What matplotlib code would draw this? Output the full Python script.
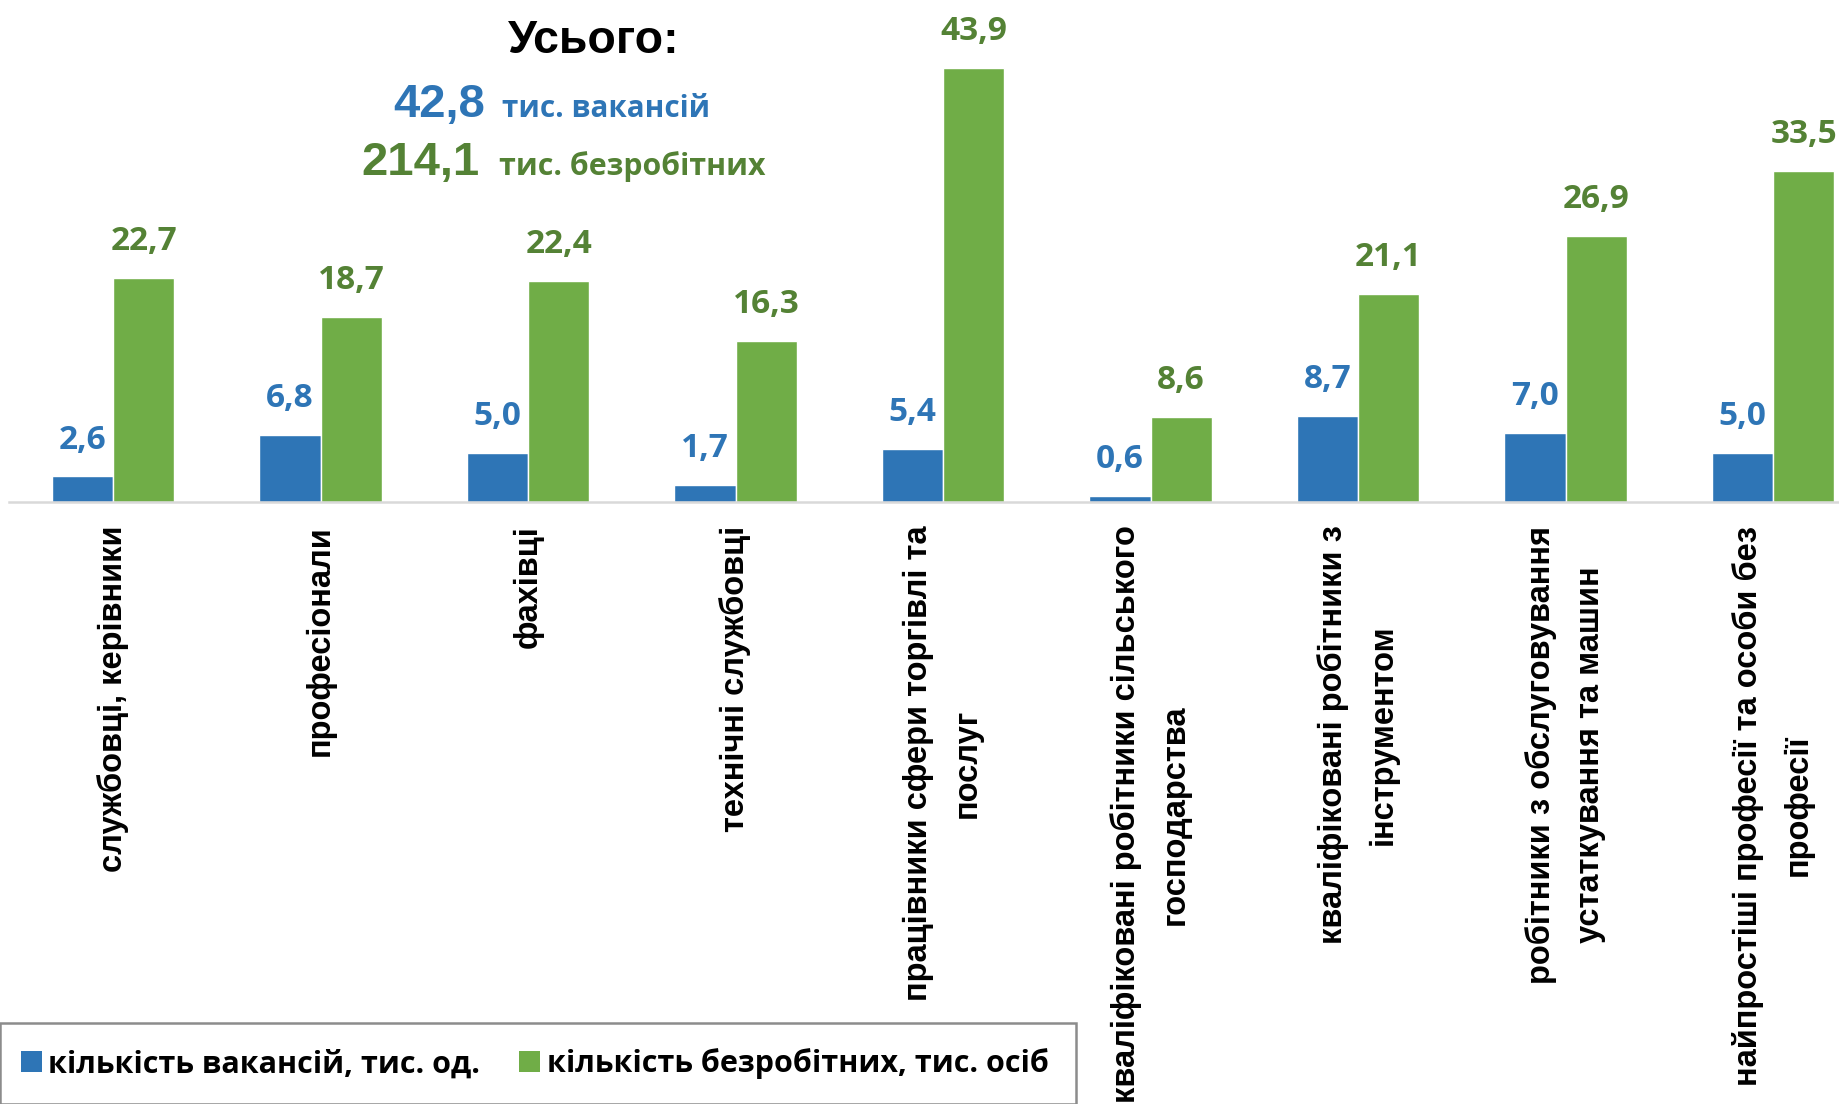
import numpy as np
import matplotlib
matplotlib.use('Agg')
import matplotlib.pyplot as plt
from matplotlib.patches import Patch, Rectangle

# дані
categories = [
    'службовці, керівники',
    'професіонали',
    'фахівці',
    'технічні службовці',
    'працівники сфери торгівлі та\nпослуг',
    'кваліфіковані робітники сільського\nгосподарства',
    'кваліфіковані робітники з\nінструментом',
    'робітники з обслуговування\nустаткування та машин',
    'найпростіші професії та особи без\nпрофесії',
]
vacancies = [2.6, 6.8, 5.0, 1.7, 5.4, 0.6, 8.7, 7.0, 5.0]
unemployed = [22.7, 18.7, 22.4, 16.3, 43.9, 8.6, 21.1, 26.9, 33.5]
series_names = ['кількість вакансій, тис. од.', 'кількість безробітних, тис. осіб']
total_vac = '42,8'
total_unemp = '214,1'

BLUE = '#2E75B6'
GREEN = '#70AD47'
BLUE_TXT = '#2E75B6'
GREEN_TXT = '#548235'

CAL = ['Open Sans', 'DejaVu Sans']
ARIAL = ['Liberation Sans', 'DejaVu Sans']

W, H = 1839, 1104
fig = plt.figure(figsize=(W / 100, H / 100), dpi=100)

# вісь: ліворуч 9 px, низ 502 px від верху, верх 8 px
left_px, base_px, top_px = 9.25, 502, 8
ax = fig.add_axes([left_px / W, 1 - base_px / H, 1 - left_px / W, (base_px - top_px) / H])

x = np.arange(len(categories))
bw = 0.295
b1 = ax.bar(x - bw / 2, vacancies, bw, color=BLUE, edgecolor='white', linewidth=1, zorder=2)
b2 = ax.bar(x + bw / 2, unemployed, bw, color=GREEN, edgecolor='white', linewidth=1, zorder=2)

ax.set_ylim(0, 50)
ax.set_xlim(-0.5, -0.5 + (W - left_px) / 207.5)

for bars, vals, col in [(b1, vacancies, BLUE_TXT), (b2, unemployed, GREEN_TXT)]:
    for bar, v in zip(bars, vals):
        ax.annotate(f'{v:.1f}'.replace('.', ','),
                    (bar.get_x() + bar.get_width() / 2, v),
                    xytext=(0, 20), textcoords='offset points',
                    ha='center', va='baseline', fontsize=24,
                    fontweight='bold', color=col, family=CAL)

for s in ['left', 'right', 'top']:
    ax.spines[s].set_visible(False)
ax.spines['bottom'].set_color('#D9D9D9')
ax.spines['bottom'].set_linewidth(1.8)
ax.set_yticks([])
ax.set_xticks(x)
ax.set_xticklabels(categories, rotation=90, fontsize=23.5, fontweight='bold',
                   family=ARIAL, linespacing=1.75)
ax.tick_params(axis='x', length=0, pad=17)

# підсумки вгорі
def ftext(px, py, s, **kw):
    fig.text(px / W, 1 - py / H, s, va='baseline', **kw)

ftext(594, 53, 'Усього:', ha='center', fontsize=33.5, fontweight='bold', family=ARIAL, color='black')
ftext(485, 117, total_vac, ha='right', fontsize=34, fontweight='bold', family=ARIAL, color=BLUE_TXT)
ftext(502, 117, 'тис. вакансій', ha='left', fontsize=21.3, fontweight='bold', family=CAL, color=BLUE_TXT)
ftext(480, 175, total_unemp, ha='right', fontsize=34, fontweight='bold', family=ARIAL, color=GREEN_TXT)
ftext(499, 175, 'тис. безробітних', ha='left', fontsize=21.8, fontweight='bold', family=CAL, color=GREEN_TXT)

# легенда
handles = [Patch(facecolor=BLUE, label=series_names[0]),
           Patch(facecolor=GREEN, label=series_names[1])]
fig.legend(handles=handles, loc='center left', bbox_to_anchor=(21 / W, 1 - 1064 / H),
           ncol=2, frameon=False, borderpad=0, borderaxespad=0,
           handlelength=0.68, handleheight=0.68,
           handletextpad=0.22, columnspacing=1.27,
           prop={'family': CAL, 'weight': 'bold', 'size': 22})
fig.patches.append(Rectangle((0, 0), 1076 / W, 1 - 1023 / H, transform=fig.transFigure,
                             fill=False, edgecolor='#8C8C8C', linewidth=1.8))

fig.savefig('out.png', dpi=100, facecolor='white')
